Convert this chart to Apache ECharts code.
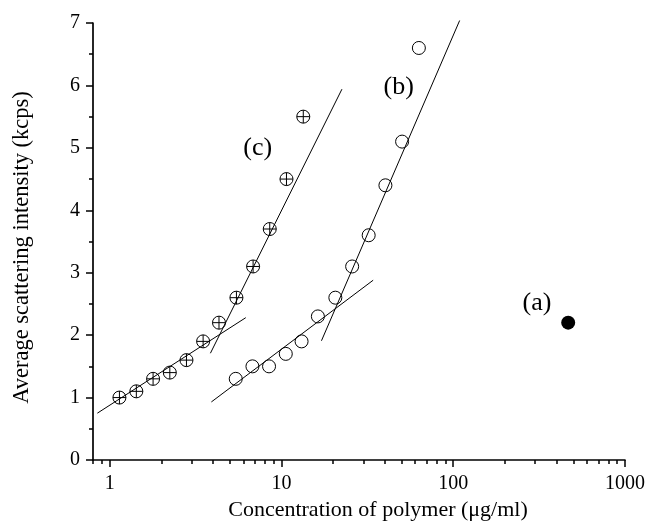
<!DOCTYPE html>
<html>
<head>
<meta charset="utf-8">
<script src="https://cdn.jsdelivr.net/npm/echarts@6/dist/echarts.min.js"></script>
<style>html,body{margin:0;padding:0;background:#fff}#c{width:645px;height:525px}</style>
</head>
<body>
<div id="c"></div>
<script>
// ---- data ----
const concC = [1.14, 1.43, 1.79, 2.24, 2.80, 3.50, 4.33, 5.47, 6.84, 8.55, 10.7, 13.4];
const intC  = [1.0, 1.1, 1.3, 1.4, 1.6, 1.9, 2.2, 2.6, 3.1, 3.7, 4.5, 5.5];
const concB = [5.42, 6.78, 8.47, 10.6, 13.1, 16.3, 20.6, 25.8, 32.2, 40.3, 50.4, 63.1];
const intB  = [1.3, 1.5, 1.5, 1.7, 1.9, 2.3, 2.6, 3.1, 3.6, 4.4, 5.1, 6.6];
const concA = [467];
const intA  = [2.2];
const fitCLowX = [0.848, 6.2],  fitCLowY = [0.75, 2.28];
const fitCHighX = [3.86, 22.5], fitCHighY = [1.71, 5.94];
const fitBLowX = [3.91, 34.2],  fitBLowY = [0.93, 2.88];
const fitBHighX = [17.1, 109],  fitBHighY = [1.91, 7.04];
const labelTexts = ['(c)', '(b)', '(a)'];
const labelX = [7.28, 48.2, 307];
const labelY = [5.0, 5.98, 2.51];
const xMajorTicks = [1, 10, 100, 1000];
const xMinorTicks = [0.8, 0.9, 2, 3, 4, 5, 6, 7, 8, 9, 20, 30, 40, 50, 60, 70, 80, 90, 200, 300, 400, 500, 600, 700, 800, 900];

const zip = (xs, ys) => xs.map((x, i) => [x, ys[i]]);
const FONT = '"Liberation Serif", "Times New Roman", serif';
const lineSeries = (xs, ys) => ({
  type: 'line', data: zip(xs, ys), xAxisIndex: 0, symbol: 'none', clip: false,
  lineStyle: { color: '#000', width: 1 }, silent: true, z: 1
});
const crossCircle = 'path://M12,1A11,11,0,1,1,12,23A11,11,0,1,1,12,1ZM12,1L12,23M1,12L23,12';

const chart = echarts.init(document.getElementById('c'));
chart.setOption({
  animation: false,
  backgroundColor: '#fff',
  grid: { left: 93, right: 20, top: 23, bottom: 65, containLabel: false, outerBoundsMode: 'none' },
  xAxis: [{
    type: 'log', min: 0.8, max: 1000, position: 'bottom',
    axisLine: { lineStyle: { color: '#000', width: 1.7 } },
    axisTick: { show: true, length: 7, customValues: xMajorTicks, lineStyle: { color: '#000', width: 1.5 } },
    axisLabel: { customValues: xMajorTicks, color: '#000', fontFamily: FONT, fontSize: 20, margin: 14,
      formatter: v => String(Math.round(v)) },
    splitLine: { show: false },
    name: 'Concentration of polymer (μg/ml)', nameLocation: 'middle', nameGap: 37,
    nameTextStyle: { color: '#000', fontFamily: FONT, fontSize: 22, padding: [0, 0, 0, 38] }
  }, {
    type: 'log', min: 0.8, max: 1000, position: 'top', offset: -(525 - 23 - 65),
    axisLine: { show: false },
    axisTick: { show: true, inside: true, length: 4, customValues: xMinorTicks, lineStyle: { color: '#000', width: 1.5 } },
    axisLabel: { show: false },
    splitLine: { show: false }
  }],
  yAxis: {
    type: 'value', min: 0, max: 7, interval: 1,
    axisLine: { show: true, lineStyle: { color: '#000', width: 1.7 } },
    axisTick: { show: true, length: 7, lineStyle: { color: '#000', width: 1.5 } },
    minorTick: { show: true, splitNumber: 2, length: 4, lineStyle: { color: '#000', width: 1.5 } },
    axisLabel: { color: '#000', fontFamily: FONT, fontSize: 20, margin: 13 },
    splitLine: { show: false },
    name: 'Average scattering intensity (kcps)', nameLocation: 'middle', nameGap: 59,
    nameTextStyle: { color: '#000', fontFamily: FONT, fontSize: 22.5, padding: [0, 12, 0, 0] }
  },
  series: [
    lineSeries(fitCLowX, fitCLowY),
    lineSeries(fitCHighX, fitCHighY),
    lineSeries(fitBLowX, fitBLowY),
    lineSeries(fitBHighX, fitBHighY),
    { type: 'scatter', name: '(c)', data: zip(concC, intC), symbol: crossCircle, symbolSize: 13,
      itemStyle: { color: 'rgba(0,0,0,0)', borderColor: '#000', borderWidth: 1, opacity: 1 }, z: 3 },
    { type: 'scatter', name: '(b)', data: zip(concB, intB), symbol: 'circle', symbolSize: 13,
      itemStyle: { color: 'rgba(0,0,0,0)', borderColor: '#000', borderWidth: 1, opacity: 1 }, z: 3 },
    { type: 'scatter', name: '(a)', data: zip(concA, intA), symbol: 'circle', symbolSize: 14,
      itemStyle: { color: '#000', opacity: 1 }, z: 3 },
    { type: 'scatter', data: labelTexts.map((t, i) => ({ value: [labelX[i], labelY[i]], name: t })),
      symbolSize: 0, silent: true, itemStyle: { opacity: 1 },
      label: { show: true, position: 'inside', formatter: p => p.name, color: '#000', fontFamily: FONT, fontSize: 26 } }
  ]
});
</script>
</body>
</html>
